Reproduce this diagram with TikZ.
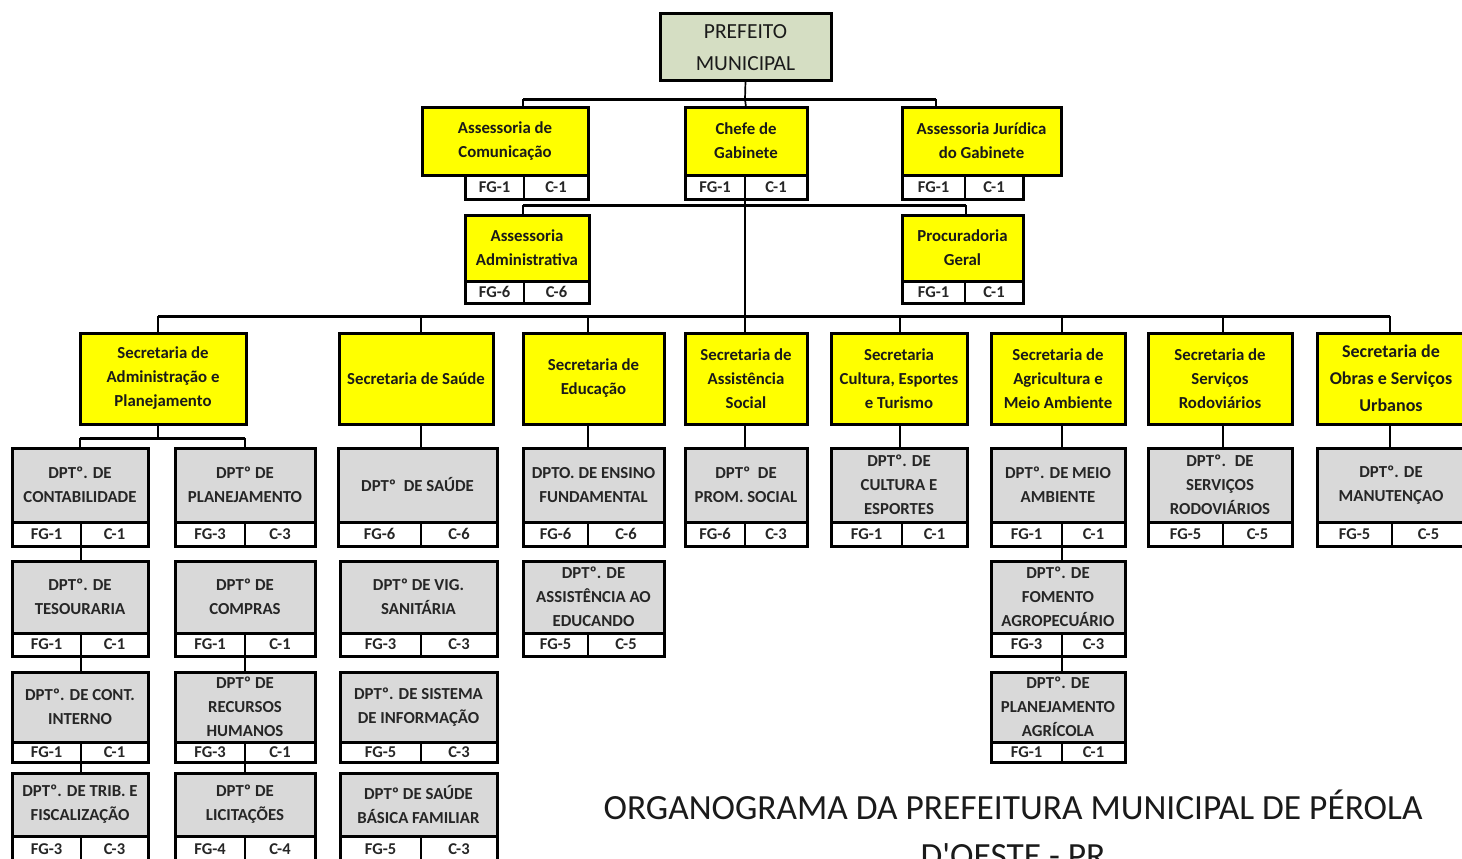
\documentclass[tikz,border=0pt]{standalone}
\usepackage{fontspec}
\setmainfont{Carlito}
\definecolor{yel}{HTML}{FFFF00}
\definecolor{gry}{HTML}{D9D9D9}
\definecolor{pgreen}{HTML}{D5DEC3}
\definecolor{txt}{HTML}{1A1A1A}
\definecolor{gtxt}{HTML}{262626}
\newcommand\boxfont{\fontsize{16.8}{24}\selectfont\bfseries}
\newcommand\bigboxfont{\fontsize{18}{27}\selectfont\bfseries}
\newcommand\cellfont{\fontsize{16.5}{18}\selectfont\bfseries}
\newcommand\preffont{\fontsize{21.5}{32}\selectfont}
\newcommand\titlefont{\fontsize{35.4}{48}\selectfont}
% name, style, x1, x2, y1, y2, text
\newcommand\obox[7]{\node[#2,minimum width={(#4-#3)*1pt},minimum height={(#6-#5)*1pt}] (#1) at ({(#3+#4)/2},{(#5+#6)/2}) {#7};}
% name, x1, xsplit, x2, y1, y2, fg, c
\newcommand\osub[8]{%
  \node[cell,minimum width={(#3-#2)*1pt},minimum height={(#6-#5)*1pt}] (#1fg) at ({(#2+#3)/2},{(#5+#6)/2}) {#7};
  \node[cell,minimum width={(#4-#3)*1pt},minimum height={(#6-#5)*1pt}] (#1c) at ({(#3+#4)/2},{(#5+#6)/2}) {#8};
  \draw[thickline] (#1fg.north west) rectangle (#1c.south east);}
\tikzset{
  ybox/.style={draw, line width=3pt, fill=yel, font=\boxfont, text=txt, align=center, inner sep=0pt, outer sep=0pt},
  gbox/.style={ybox, fill=gry, text=gtxt},
  pbox/.style={ybox, fill=pgreen, font=\preffont},
  cell/.style={draw, line width=1.8pt, fill=white, font=\cellfont, text=gtxt, inner sep=0pt, outer sep=0pt},
  thickline/.style={line width=3pt},
  bar/.style={line width=3pt},
  conn/.style={line width=1.7pt},
}
\begin{document}
\begin{tikzpicture}[x=1pt,y=-1pt]
\useasboundingbox (0,0) rectangle (1462,859);
\fill[white] (0,0) rectangle (1462,859);
\clip (0,0) rectangle (1462,859);

% ---------- top ----------
\obox{pref}{pbox}{660}{831}{14}{81}{PREFEITO\\MUNICIPAL}

\obox{com}{ybox}{422}{588}{107}{175}{Assessoria de\\Comunicação}
\osub{comsub}{465}{524}{588}{175}{199}{FG-1}{C-1}
\obox{chefe}{ybox}{685}{807}{107}{175}{Chefe de\\Gabinete}
\osub{chefesub}{685}{745}{807}{175}{199}{FG-1}{C-1}
\obox{jur}{ybox}{902}{1061}{107}{175}{Assessoria Jurídica\\do Gabinete}
\osub{jursub}{902}{965}{1023}{175}{199}{FG-1}{C-1}

\obox{adm}{ybox}{465}{589}{215}{281}{Assessoria\\Administrativa}
\osub{admsub}{465}{524}{589}{281}{303}{FG-6}{C-6}
\obox{proc}{ybox}{902}{1023}{215}{281}{Procuradoria\\Geral}
\osub{procsub}{902}{965}{1023}{281}{303}{FG-1}{C-1}

% ---------- secretarias ----------
\obox{secadm}{ybox}{80}{246}{333}{424}{Secretaria de\\Administração e\\Planejamento}
\obox{secsaude}{ybox}{339}{493}{333}{424}{Secretaria de Saúde}
\obox{secedu}{ybox}{523}{664}{333}{424}{Secretaria de\\Educação}
\obox{secassist}{ybox}{685}{807}{333}{424}{Secretaria de\\Assistência\\Social}
\obox{seccult}{ybox}{831}{967}{333}{424}{Secretaria\\Cultura, Esportes\\e Turismo}
\obox{secagri}{ybox}{991}{1125}{333}{424}{Secretaria de\\Agricultura e\\Meio Ambiente}
\obox{secrod}{ybox}{1148}{1292}{333}{424}{Secretaria de\\Serviços\\Rodoviários}
\obox{secobras}{ybox,font=\bigboxfont}{1317}{1465}{333}{424}{Secretaria de\\Obras e Serviços\\Urbanos}

% ---------- departamentos, row 1 ----------
\obox{cont}{gbox}{12}{148}{448}{522}{DPTº. DE\\CONTABILIDADE}
\osub{contsub}{12}{81}{148}{522}{546}{FG-1}{C-1}
\obox{plan}{gbox}{175}{315}{448}{522}{DPTº DE\\PLANEJAMENTO}
\osub{plansub}{175}{245}{315}{522}{546}{FG-3}{C-3}
\obox{dsaude}{gbox}{338}{497}{448}{522}{DPTº~ DE SAÚDE}
\osub{dsaudesub}{338}{421}{497}{522}{546}{FG-6}{C-6}
\obox{ensino}{gbox}{523}{664}{448}{522}{DPTO. DE ENSINO\\FUNDAMENTAL}
\osub{ensinosub}{523}{588}{664}{522}{546}{FG-6}{C-6}
\obox{prom}{gbox}{685}{807}{448}{522}{DPTº~ DE\\PROM. SOCIAL}
\osub{promsub}{685}{745}{807}{522}{546}{FG-6}{C-3}
\obox{cult}{gbox}{831}{967}{448}{522}{DPTº. DE\\CULTURA E\\ESPORTES}
\osub{cultsub}{831}{902}{967}{522}{546}{FG-1}{C-1}
\obox{meio}{gbox}{991}{1125}{448}{522}{DPTº. DE MEIO\\AMBIENTE}
\osub{meiosub}{991}{1062}{1125}{522}{546}{FG-1}{C-1}
\obox{servrod}{gbox}{1148}{1292}{448}{522}{DPTº.~ DE\\SERVIÇOS\\RODOVIÁRIOS}
\osub{servrodsub}{1148}{1223}{1292}{522}{546}{FG-5}{C-5}
\obox{manut}{gbox}{1317}{1465}{448}{522}{DPTº. DE\\MANUTENÇAO}
\osub{manutsub}{1317}{1392}{1465}{522}{546}{FG-5}{C-5}

% ---------- row 2 ----------
\obox{tes}{gbox}{12}{148}{561}{633}{DPTº. DE\\TESOURARIA}
\osub{tessub}{12}{81}{148}{633}{656}{FG-1}{C-1}
\obox{compras}{gbox}{175}{315}{561}{633}{DPTº DE\\COMPRAS}
\osub{comprassub}{175}{245}{315}{633}{656}{FG-1}{C-1}
\obox{vig}{gbox}{340}{497}{561}{633}{DPTº DE VIG.\\SANITÁRIA}
\osub{vigsub}{340}{421}{497}{633}{656}{FG-3}{C-3}
\obox{assed}{gbox}{523}{664}{561}{633}{DPTº. DE\\ASSISTÊNCIA AO\\EDUCANDO}
\osub{assedsub}{523}{588}{664}{633}{656}{FG-5}{C-5}
\obox{fomento}{gbox}{991}{1125}{561}{633}{DPTº. DE\\FOMENTO\\AGROPECUÁRIO}
\osub{fomentosub}{991}{1062}{1125}{633}{656}{FG-3}{C-3}

% ---------- row 3 ----------
\obox{contint}{gbox}{12}{148}{672}{742}{DPTº. DE CONT.\\INTERNO}
\osub{contintsub}{12}{81}{148}{742}{762}{FG-1}{C-1}
\obox{rh}{gbox}{175}{315}{672}{742}{DPTº DE\\RECURSOS\\HUMANOS}
\osub{rhsub}{175}{245}{315}{742}{762}{FG-3}{C-1}
\obox{sist}{gbox}{340}{497}{672}{742}{DPTº. DE SISTEMA\\DE INFORMAÇÃO}
\osub{sistsub}{340}{421}{497}{742}{762}{FG-5}{C-3}
\obox{planagr}{gbox}{991}{1125}{672}{742}{DPTº. DE\\PLANEJAMENTO\\AGRÍCOLA}
\osub{planagrsub}{991}{1062}{1125}{742}{762}{FG-1}{C-1}

% ---------- row 4 ----------
\obox{trib}{gbox}{12}{148}{773}{836}{DPTº. DE TRIB. E\\FISCALIZAÇÃO}
\osub{tribsub}{12}{81}{148}{836}{862}{FG-3}{C-3}
\obox{lic}{gbox}{175}{315}{773}{836}{DPTº DE\\LICITAÇÕES}
\osub{licsub}{175}{245}{315}{836}{862}{FG-4}{C-4}
\obox{sbf}{gbox}{340}{497}{773}{836}{DPTº DE SAÚDE\\BÁSICA FAMILIAR}
\osub{sbfsub}{340}{421}{497}{836}{862}{FG-5}{C-3}

% ---------- connectors ----------
\coordinate (t0) at (745,99);
\coordinate (tL) at (523,99);
\coordinate (tR) at (936,99);
\draw[conn] (pref.south) -- (t0);
\draw[bar] (tL) -- (tR);
\draw[conn] (tL) -- (tL |- com.north);
\draw[conn] (t0) -- (chefe.north);
\draw[conn] (tR) -- (tR |- jur.north);

\coordinate (sL) at (523,205);
\coordinate (sR) at (966,205);
\draw[bar] (sL) -- (sR);
\draw[conn] (sL) -- (sL |- adm.north);
\draw[conn] (sR) -- (sR |- proc.north);

\coordinate (bL) at (158,316);
\coordinate (bR) at (1390,316);
\coordinate (b0) at (745,316);
\draw[conn] (chefesubfg.south east) -- (b0);
\draw[bar] (bL) -- (bR);
\draw[conn] (bL) -- (bL |- secadm.north);
\draw[conn] (421,316) -- (421,316 |- secsaude.north);
\draw[conn] (588,316) -- (588,316 |- secedu.north);
\draw[conn] (745,316) -- (745,316 |- secassist.north);
\draw[conn] (900,316) -- (900,316 |- seccult.north);
\draw[conn] (1062,316) -- (1062,316 |- secagri.north);
\draw[conn] (1223,316) -- (1223,316 |- secrod.north);
\draw[conn] (bR) -- (bR |- secobras.north);

% secretaria -> first departments
\coordinate (aj) at (158,438);
\coordinate (ajL) at (80,438);
\coordinate (ajR) at (245,438);
\draw[conn] (aj |- secadm.south) -- (aj);
\draw[bar] (ajL) -- (ajR);
\draw[conn] (ajL) -- (ajL |- cont.north);
\draw[conn] (ajR) -- (ajR |- plan.north);
\draw[conn] (421,430 |- secsaude.south) -- (421,430 |- dsaude.north);
\draw[conn] (588,430 |- secedu.south) -- (588,430 |- ensino.north);
\draw[conn] (745,430 |- secassist.south) -- (745,430 |- prom.north);
\draw[conn] (900,430 |- seccult.south) -- (900,430 |- cult.north);
\draw[conn] (1062,430 |- secagri.south) -- (1062,430 |- meio.north);
\draw[conn] (1223,430 |- secrod.south) -- (1223,430 |- servrod.north);
\draw[conn] (1390,430 |- secobras.south) -- (1390,430 |- manut.north);

% between departments
\draw[conn] (contsubfg.south east) -- (contsubfg.south east |- tes.north);
\draw[conn] (tessubfg.south east) -- (tessubfg.south east |- contint.north);
\draw[conn] (contintsubfg.south east) -- (contintsubfg.south east |- trib.north);
\draw[conn] (comprassubfg.south east) -- (comprassubfg.south east |- rh.north);
\draw[conn] (rhsubfg.south east) -- (rhsubfg.south east |- lic.north);
\draw[conn] (meiosubfg.south east) -- (meiosubfg.south east |- fomento.north);
\draw[conn] (fomentosubfg.south east) -- (fomentosubfg.south east |- planagr.north);

% ---------- title ----------
\node[font=\titlefont, text=txt, anchor=base, inner sep=0pt] (title1) at (1013,819) {ORGANOGRAMA DA PREFEITURA MUNICIPAL DE PÉROLA};
\node[font=\titlefont, text=txt, anchor=base, inner sep=0pt] (title2) at (1013,867) {D\textquotesingle OESTE - PR};
\end{tikzpicture}
\end{document}
